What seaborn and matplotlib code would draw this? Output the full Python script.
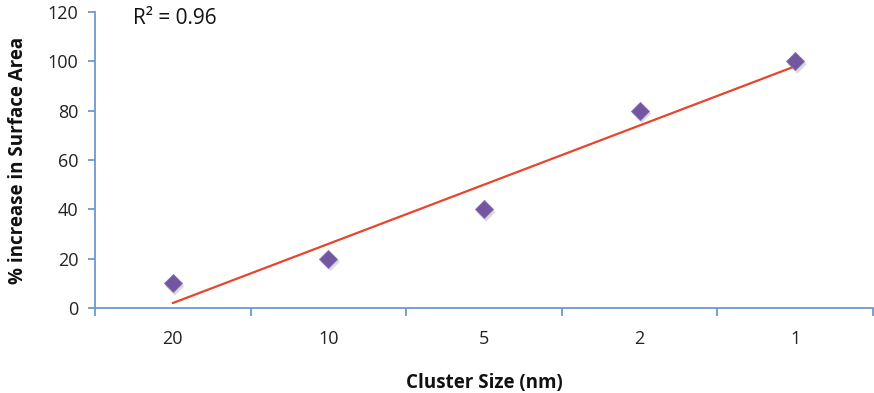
import numpy as np
import pandas as pd
import seaborn as sns
import matplotlib
matplotlib.use("Agg")
import matplotlib.pyplot as plt
import matplotlib.transforms as mtransforms
from matplotlib.ticker import FixedLocator

categories = ["20", "10", "5", "2", "1"]
values = [10, 20, 40, 80, 100]
y_ticks = [0, 20, 40, 60, 80, 100, 120]

sns.set_theme(style="white")
plt.rcParams['font.family'] = ['Open Sans', 'DejaVu Sans']

fig = plt.figure(figsize=(8.74, 3.93), dpi=100)
ax = fig.add_axes([95/874, 1-308/393, 778/874, 296/393])

pos = np.arange(len(categories))
df = pd.DataFrame({"pos": pos, "value": values})

coef = np.polyfit(pos, values, 1)
fit = np.polyval(coef, pos)
r2 = 1 - np.sum((np.array(values) - fit) ** 2) / np.sum((np.array(values) - np.mean(values)) ** 2)
sns.lineplot(x=pos, y=fit, ax=ax, color="#e5462e", linewidth=1.6, zorder=2)

# soft shadow under markers
sns.scatterplot(data=df, x="pos", y="value", ax=ax, marker="D", s=95,
                color="#888888", alpha=0.3, edgecolor="none", zorder=2,
                legend=False)
shadow = ax.collections[-1]
shadow.set_offset_transform(ax.transData + mtransforms.ScaledTranslation(1.5/72, -2/72, fig.dpi_scale_trans))
sns.scatterplot(data=df, x="pos", y="value", ax=ax, marker="D", s=85,
                color="#7256a0", edgecolor="#8b72b8", linewidth=0.6, zorder=3,
                legend=False)

ax.set_xlim(-0.5, len(categories) - 0.5)
ax.set_ylim(0, 120)
ax.set_yticks(y_ticks)
ax.set_xticks(pos)
ax.set_xticklabels(categories)
ax.xaxis.set_minor_locator(FixedLocator(np.arange(-0.5, len(categories), 1.0)))
ax.tick_params(axis="x", which="major", length=0, labelsize=13, pad=16, colors="#222222")
ax.tick_params(axis="x", which="minor", length=6, width=1.3, color="#6d98cf", bottom=True, direction="out")
ax.tick_params(axis="y", which="major", length=5, width=1.3, color="#6d98cf", left=True, direction="out", labelsize=13, pad=7, labelcolor="#222222")

for side in ["top", "right"]:
    ax.spines[side].set_visible(False)
for side in ["left", "bottom"]:
    ax.spines[side].set_color("#6d98cf")
    ax.spines[side].set_linewidth(1.3)

ax.set_xlabel("Cluster Size (nm)", fontsize=13.5, fontweight="bold", labelpad=18, color="#111111")
ax.set_ylabel("% increase in Surface Area", fontsize=13.5, fontweight="bold", labelpad=14, color="#111111")

fig.text(133/874, 1 - 18/393, f"R² = {r2:.2f}", fontsize=15,
         va="center", ha="left", color="#111111")

fig.savefig("out.png", dpi=100)
